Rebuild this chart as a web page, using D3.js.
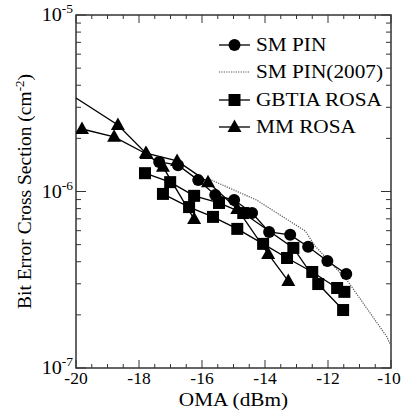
<!DOCTYPE html>
<html>
<head>
<meta charset="utf-8">
<script src="https://cdn.jsdelivr.net/npm/d3@7"></script>
<style>
  body { margin: 0; background: #fff; }
  svg, svg text { font-family: "Liberation Serif", Tinos, "Times New Roman", Times, "DejaVu Serif", serif; }
</style>
</head>
<body>
<svg width="401" height="415"></svg>
<script>
const width = 401;
const height = 415;
const margin = { top: 15, right: 10, bottom: 47, left: 76 };
const stretch = 1.12; // the source figure's text is a bit wider than plain Times

// data: [OMA dBm, cross section cm^-2]
const smPin = [
  [-17.36, 1.47e-6], [-16.76, 1.41e-6], [-16.12, 1.16e-6], [-15.58, 9.55e-7],
  [-14.98, 8.95e-7], [-14.41, 7.55e-7], [-13.87, 5.90e-7], [-13.20, 5.68e-7],
  [-12.63, 4.86e-7], [-12.02, 4.04e-7], [-11.42, 3.41e-7]
];
const smPin2007 = [
  [-15.84, 1.19e-6], [-14.27, 8.95e-7], [-12.72, 5.97e-7], [-12.41, 4.91e-7],
  [-11.40, 3.15e-7], [-10.13, 1.50e-7], [-10.0, 1.33e-7]
];
const gbtia1 = [
  [-17.81, 1.27e-6], [-17.01, 1.13e-6], [-16.25, 9.45e-7], [-15.46, 8.61e-7],
  [-14.69, 7.55e-7], [-13.10, 4.79e-7], [-12.31, 2.99e-7], [-11.52, 2.13e-7]
];
const gbtia2 = [
  [-17.24, 9.69e-7], [-16.41, 8.16e-7], [-15.65, 7.18e-7], [-14.88, 6.14e-7],
  [-14.06, 5.05e-7], [-13.30, 4.20e-7], [-12.50, 3.50e-7], [-11.71, 2.84e-7],
  [-11.48, 2.70e-7]
];
const mmRosa1 = [
  [-20.5, 3.87e-6], [-18.67, 2.38e-6], [-17.78, 1.65e-6], [-16.79, 1.49e-6],
  [-15.81, 1.13e-6], [-14.88, 7.96e-7], [-13.90, 4.43e-7], [-13.26, 3.11e-7]
];
const mmRosa2 = [
  [-19.81, 2.26e-6], [-18.79, 2.04e-6], [-17.76, 1.63e-6], [-17.24, 1.38e-6],
  [-16.25, 6.98e-7]
];

const xMajor = [-20, -18, -16, -14, -12, -10];
const yMajor = [1e-7, 1e-6, 1e-5];
const yExp = ["-7", "-6", "-5"];

const legendNames = ["SM PIN", "SM PIN(2007)", "GBTIA ROSA", "MM ROSA"];
const legendSymbols = ["circle", "none", "square", "triangle"];

const svg = d3.select("svg");

const x = d3.scaleLinear()
  .domain([-20, -10])
  .range([margin.left, width - margin.right]);

const y = d3.scaleLog()
  .domain([1e-7, 1e-5])
  .range([height - margin.bottom, margin.top]);

const x0 = margin.left, x1 = width - margin.right;
const y0 = height - margin.bottom, y1 = margin.top;

svg.append("clipPath").attr("id", "clip")
  .append("rect")
  .attr("x", x0).attr("y", y1)
  .attr("width", x1 - x0).attr("height", y0 - y1);

// ticks
const xMinor = d3.range(-20, -9.99, 0.5).filter(v => Math.abs(v % 2) > 0.01);
const yMinor = [];
[1e-7, 1e-6].forEach(d => { for (let k = 2; k < 10; k++) yMinor.push(d * k); });

const tickColor = "#333";
const ticks = svg.append("g").attr("stroke", tickColor).attr("stroke-width", 1);

function xTicks(vals, len) {
  vals.forEach(v => {
    ticks.append("line").attr("x1", x(v)).attr("x2", x(v)).attr("y1", y0).attr("y2", y0 - len);
    ticks.append("line").attr("x1", x(v)).attr("x2", x(v)).attr("y1", y1).attr("y2", y1 + len);
  });
}
function yTicks(vals, len) {
  vals.forEach(v => {
    ticks.append("line").attr("x1", x0).attr("x2", x0 + len).attr("y1", y(v)).attr("y2", y(v));
    ticks.append("line").attr("x1", x1).attr("x2", x1 - len).attr("y1", y(v)).attr("y2", y(v));
  });
}
xTicks(xMajor, 8);
xTicks(xMinor, 4);
yTicks(yMajor, 10);
yTicks(yMinor, 5);

// frame
svg.append("rect")
  .attr("x", x0).attr("y", y1)
  .attr("width", x1 - x0).attr("height", y0 - y1)
  .attr("fill", "none").attr("stroke", tickColor).attr("stroke-width", 1.5);

// horizontal text, optionally widened a little
function hText(px, py, size, anchor, sx = stretch) {
  return svg.append("g")
    .attr("transform", `translate(${px},${py}) scale(${sx},1)`)
    .append("text")
    .attr("text-anchor", anchor)
    .attr("font-size", size);
}

// tick labels (last one kept inside the window)
xMajor.forEach((d, i) => {
  const px = i === xMajor.length - 1 ? Math.min(x(d), width - 12) : x(d);
  hText(px, y0 + 16, 17.5, "middle", 1).text(d);
});

yMajor.forEach((d, i) => {
  const t = hText(x0 - 3, y(d) + 6, 18, "end");
  t.append("tspan").text("10");
  t.append("tspan").attr("font-size", 12).attr("dy", -8).text(yExp[i]);
});

// axis titles
hText((x0 + x1) / 2, 406, 19, "middle").text("OMA (dBm)");

const yt = svg.append("text")
  .attr("transform", `translate(31,${(y0 + y1) / 2}) rotate(-90)`)
  .attr("text-anchor", "middle")
  .attr("font-size", 19.5);
yt.append("tspan").text("Bit Error Cross Section (cm");
yt.append("tspan").attr("font-size", 13).attr("dy", -7).text("-2");
yt.append("tspan").attr("dy", 7).text(")");

// series
const plot = svg.append("g").attr("clip-path", "url(#clip)");
const line = d3.line().x(d => x(d[0])).y(d => y(d[1]));

function drawLine(data, dashed) {
  plot.append("path")
    .datum(data)
    .attr("fill", "none")
    .attr("stroke", dashed ? "#555" : "#000")
    .attr("stroke-width", dashed ? 1.2 : 1.3)
    .attr("stroke-dasharray", dashed ? "1.2,1.2" : null)
    .attr("d", line);
}

function marker(g, kind, cx, cy) {
  if (kind === "circle") {
    g.append("circle").attr("cx", cx).attr("cy", cy).attr("r", 6).attr("fill", "#000");
  } else if (kind === "square") {
    g.append("rect").attr("x", cx - 6).attr("y", cy - 6).attr("width", 12).attr("height", 12).attr("fill", "#000");
  } else if (kind === "triangle") {
    g.append("path")
      .attr("d", `M${cx},${cy - 7.5}L${cx + 7},${cy + 5}L${cx - 7},${cy + 5}Z`)
      .attr("fill", "#000");
  }
}

function drawMarkers(data, kind) {
  data.forEach(d => marker(plot, kind, x(d[0]), y(d[1])));
}

drawLine(smPin2007, true);
drawLine(mmRosa1); drawLine(mmRosa2);
drawLine(gbtia1); drawLine(gbtia2);
drawLine(smPin);
drawMarkers(mmRosa1, "triangle"); drawMarkers(mmRosa2, "triangle");
drawMarkers(gbtia1, "square"); drawMarkers(gbtia2, "square");
drawMarkers(smPin, "circle");

// legend
const legend = svg.append("g");
const legendY = [45, 72, 100, 127];
legendNames.forEach((name, i) => {
  const ly = legendY[i];
  const dashed = legendSymbols[i] === "none";
  legend.append("line")
    .attr("x1", 219).attr("x2", 250).attr("y1", ly).attr("y2", ly)
    .attr("stroke", dashed ? "#555" : "#000")
    .attr("stroke-width", dashed ? 1.2 : 1.3)
    .attr("stroke-dasharray", dashed ? "1.2,1.2" : null);
  marker(legend, legendSymbols[i], 234.5, ly);
  hText(256, ly + 6, 19, "start").text(name);
});
</script>
</body>
</html>
